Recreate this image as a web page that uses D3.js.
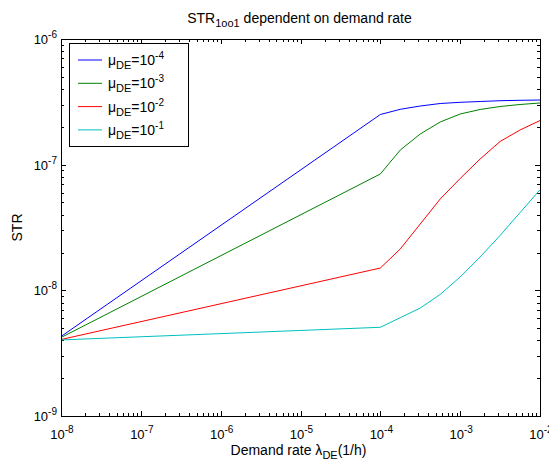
<!DOCTYPE html>
<html>
<head>
<meta charset="utf-8">
<script src="https://cdn.jsdelivr.net/npm/d3@7"></script>
<style>
  html, body { margin: 0; padding: 0; background: #fff; }
  svg text { font-family: "Liberation Sans", Arial, Helvetica, sans-serif; fill: #000; }
</style>
</head>
<body>
<svg id="chart" width="549" height="466"></svg>
<script>
// ---- data ----
const demandRate = [1e-8, 1e-4, 1.778e-4, 3.162e-4, 5.623e-4, 1e-3, 1.778e-3, 3.162e-3, 5.623e-3, 1e-2];
const strMu4 = [4.29e-9, 2.507e-7, 2.758e-7, 2.929e-7, 3.067e-7, 3.135e-7, 3.181e-7, 3.228e-7, 3.252e-7, 3.27e-7];
const strMu3 = [4.21e-9, 8.43e-8, 1.308e-7, 1.754e-7, 2.185e-7, 2.53e-7, 2.748e-7, 2.903e-7, 3.011e-7, 3.096e-7];
const strMu2 = [4.06e-9, 1.505e-8, 2.133e-8, 3.371e-8, 5.33e-8, 7.76e-8, 1.109e-7, 1.529e-7, 1.887e-7, 2.245e-7];
const strMu1 = [4.03e-9, 5.08e-9, 6.06e-9, 7.23e-9, 9.28e-9, 1.277e-8, 1.842e-8, 2.731e-8, 4.155e-8, 6.31e-8];
const seriesExp = ["-4", "-3", "-2", "-1"];
const seriesColors = ["#0000ff", "#008000", "#ff0000", "#00bfbf"];
const xTickExp = ["-8", "-7", "-6", "-5", "-4", "-3", "-2"];
const yTickExp = ["-9", "-8", "-7", "-6"];

const allSeries = [strMu4, strMu3, strMu2, strMu1];

// ---- layout ----
const svg = d3.select("#chart");
const L = 61, R = 540, T = 39, B = 416;
const x = d3.scaleLog().domain([1e-8, 1e-2]).range([L, R]);
const y = d3.scaleLog().domain([1e-9, 1e-6]).range([B, T]);
const FS = 14, TFS = 13, SFS = 10;

// minor + major ticks
const xMajor = xTickExp.map(e => Math.pow(10, +e));
const yMajor = yTickExp.map(e => Math.pow(10, +e));
const xMinor = [], yMinor = [];
for (let d = -8; d < -2; d++) for (let k = 2; k <= 9; k++) xMinor.push(k * Math.pow(10, d));
for (let d = -9; d < -6; d++) for (let k = 2; k <= 9; k++) yMinor.push(k * Math.pow(10, d));

const g = svg.append("g");
const tickG = g.append("g").attr("stroke", "#000").attr("stroke-width", 1).attr("shape-rendering", "crispEdges");
const MAJ = 5, MIN = 3;
function xt(v, len) {
  const px = Math.round(x(v)) + 0.5;
  tickG.append("line").attr("x1", px).attr("x2", px).attr("y1", B).attr("y2", B - len);
  tickG.append("line").attr("x1", px).attr("x2", px).attr("y1", T).attr("y2", T + len);
}
function yt(v, len) {
  const py = Math.round(y(v)) + 0.5;
  tickG.append("line").attr("x1", L).attr("x2", L + len).attr("y1", py).attr("y2", py);
  tickG.append("line").attr("x1", R).attr("x2", R - len).attr("y1", py).attr("y2", py);
}
xMinor.forEach(v => xt(v, MIN));
xMajor.forEach(v => xt(v, MAJ));
yMinor.forEach(v => yt(v, MIN));
yMajor.forEach(v => yt(v, MAJ));

// lines
const line = d3.line().x((d, i) => x(demandRate[i])).y(d => y(d));
allSeries.forEach((s, i) => {
  g.append("path").datum(s).attr("d", line)
    .attr("fill", "none").attr("stroke", seriesColors[i]).attr("stroke-width", 1);
});

// frame
g.append("rect").attr("x", L + 0.5).attr("y", T + 0.5).attr("width", R - L).attr("height", B - T)
  .attr("fill", "none").attr("stroke", "#000").attr("stroke-width", 1).attr("shape-rendering", "crispEdges");

// tick labels
function powLabel(sel, exp, anchor) {
  const t = sel.append("text").style("font-size", TFS + "px").attr("text-anchor", anchor);
  t.append("tspan").text("10");
  t.append("tspan").attr("dy", -6).style("font-size", SFS + "px").text(exp);
  return t;
}
xTickExp.forEach((e, i) => {
  powLabel(g, e, "middle").attr("x", x(xMajor[i]) + 1).attr("y", 439);
});
yTickExp.forEach((e, i) => {
  powLabel(g, e, "end").attr("x", 57).attr("y", y(yMajor[i]) + 5);
});

// title
const title = g.append("text").attr("x", (L + R) / 2 - 1).attr("y", 23).attr("text-anchor", "middle").style("font-size", FS + "px");
title.append("tspan").text("STR");
title.append("tspan").attr("dy", 4).style("font-size", "11px").text("1oo1");
title.append("tspan").attr("dy", -4).text(" dependent on demand rate");

// x label
const xl = g.append("text").attr("x", (L + R) / 2 - 2).attr("y", 455).attr("text-anchor", "middle").style("font-size", FS + "px");
xl.append("tspan").text("Demand rate λ");
xl.append("tspan").attr("dy", 4).style("font-size", "11px").text("DE");
xl.append("tspan").attr("dy", -4).text("(1/h)");

// y label
g.append("text").attr("transform", `translate(22,${(T + B) / 2}) rotate(-90)`)
  .attr("text-anchor", "middle").style("font-size", FS + "px").text("STR");

// legend
const lg = g.append("g");
lg.append("rect").attr("x", 69.5).attr("y", 43.5).attr("width", 119).attr("height", 103)
  .attr("fill", "#fff").attr("stroke", "#000").attr("stroke-width", 1).attr("shape-rendering", "crispEdges");
seriesExp.forEach((e, i) => {
  const ly = 60 + i * 23.3;
  lg.append("line").attr("x1", 78).attr("x2", 102).attr("y1", ly).attr("y2", ly)
    .attr("stroke", seriesColors[i]).attr("stroke-width", 1);
  const t = lg.append("text").attr("x", 108).attr("y", ly + 5).style("font-size", FS + "px");
  t.append("tspan").text("μ");
  t.append("tspan").attr("dy", 4).style("font-size", "11px").text("DE");
  t.append("tspan").attr("dy", -4).text("=10");
  t.append("tspan").attr("dy", -6).style("font-size", SFS + "px").text(e);
});
</script>
</body>
</html>
